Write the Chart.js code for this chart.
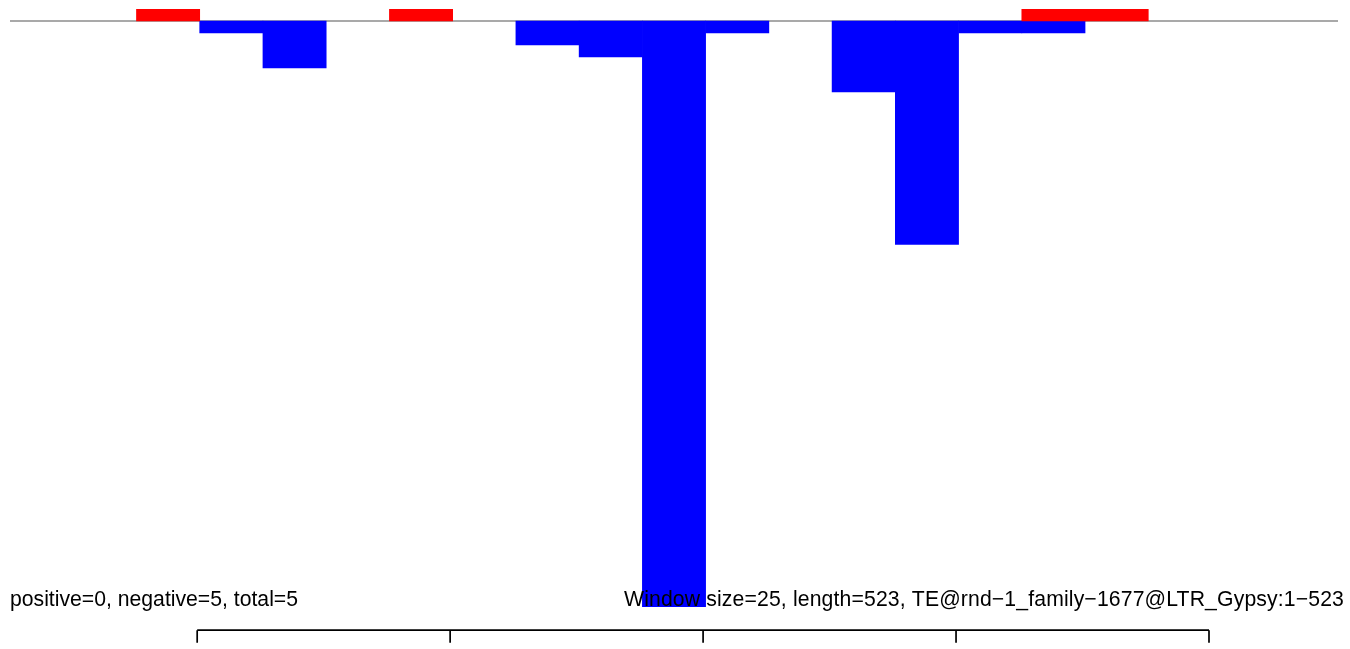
<!DOCTYPE html>
<html>
<head>
<meta charset="utf-8">
<script src="https://cdn.jsdelivr.net/npm/chart.js@4/dist/chart.umd.min.js"></script>
<style>
  html, body { margin: 0; padding: 0; background: #ffffff; }
  #wrap { width: 1350px; height: 649px; }
</style>
</head>
<body>
<div id="wrap"><canvas id="c" width="1350" height="649"></canvas></div>
<script>
// Window start positions (window size 25, length 523)
const windowStarts = ["1","26","51","76","101","126","151","176","201","226","251","276","301","326","351","376","401","426","451","476","501"];
// Positive (red) and negative (blue) values per window (null = no bar)
const positiveValues = [null, null, 1, null, null, null, 1, null, null, null, null, null, null, null, null, null, 1, 1, null, null, null];
const negativeValues = [null, null, null, -1, -3.9, null, null, null, -2, -3, -48.8, -1, null, -5.9, -18.6, -1, -1, null, null, null, null];
// Bottom axis tick positions (in window units, 0 = left edge of first window)
const axisTicks = [2.96, 6.96, 10.96, 14.96, 18.96];
const yMin = -48.8, yMax = 1;
const leftLabel = "positive=0, negative=5, total=5";
const rightLabel = "Window size=25, length=523, TE@rnd\u22121_family\u22121677@LTR_Gypsy:1\u2212523";

const decor = {
  id: 'decor',
  beforeDatasetsDraw(chart) {
    const ctx = chart.ctx, y = chart.scales.y, a = chart.chartArea;
    const y0 = y.getPixelForValue(0);
    ctx.save();
    ctx.strokeStyle = '#a9a9a9';
    ctx.lineWidth = 2;
    ctx.beginPath();
    ctx.moveTo(a.left, y0);
    ctx.lineTo(a.right, y0);
    ctx.stroke();
    ctx.restore();
  },
  afterDatasetsDraw(chart) {
    const ctx = chart.ctx, x = chart.scales.x;
    const c0 = x.getPixelForValue(0), step = x.getPixelForValue(1) - c0;
    const toPx = v => c0 + (v - 0.5) * step;
    ctx.save();
    ctx.fillStyle = '#000000';
    ctx.font = '21.2px "Liberation Sans", Arial, Helvetica, sans-serif';
    ctx.textBaseline = 'alphabetic';
    ctx.textAlign = 'left';
    ctx.fillText(leftLabel, 10, 606);
    ctx.letterSpacing = '0.14px';
    ctx.textAlign = 'right';
    ctx.fillText(rightLabel, 1344, 606);
    ctx.letterSpacing = '0px';
    // bottom axis
    ctx.strokeStyle = '#000000';
    ctx.lineWidth = 1.7;
    const xs = axisTicks.map(toPx);
    ctx.beginPath();
    ctx.moveTo(xs[0], 630.2);
    ctx.lineTo(xs[xs.length - 1], 630.2);
    xs.forEach(px => { ctx.moveTo(px, 630.2); ctx.lineTo(px, 642.7); });
    ctx.stroke();
    ctx.restore();
  }
};

new Chart(document.getElementById('c'), {
  type: 'bar',
  data: {
    labels: windowStarts,
    datasets: [
      { label: 'positive', data: positiveValues, backgroundColor: '#ff0000', borderWidth: 0, barPercentage: 1, categoryPercentage: 1 },
      { label: 'negative', data: negativeValues, backgroundColor: '#0000ff', borderWidth: 0, barPercentage: 1, categoryPercentage: 1 }
    ]
  },
  options: {
    responsive: false,
    devicePixelRatio: 1,
    animation: false,
    layout: { padding: { left: 10, top: 9, right: 12, bottom: 42 } },
    plugins: { legend: { display: false }, tooltip: { enabled: false } },
    scales: {
      x: { stacked: true, display: false, offset: true },
      y: { stacked: true, display: false, min: yMin, max: yMax }
    }
  },
  plugins: [decor]
});
</script>
</body>
</html>
